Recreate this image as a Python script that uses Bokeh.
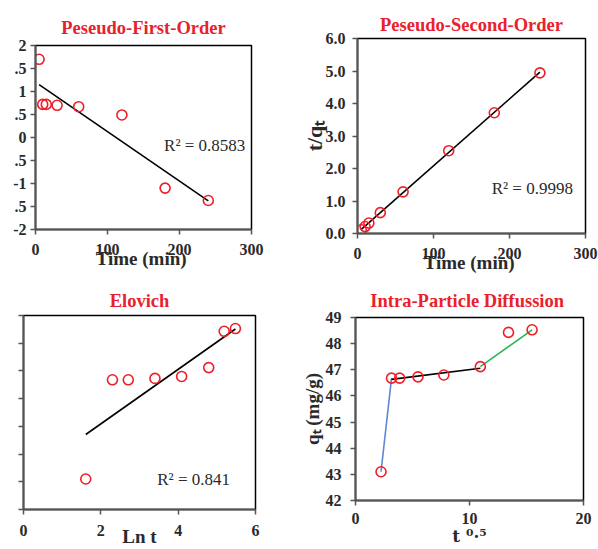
import numpy as np
from bokeh.plotting import figure
from bokeh.layouts import column, row
from bokeh.models import Label, FixedTicker, Range1d, NumeralTickFormatter
from bokeh.embed import file_html
from bokeh.resources import INLINE

# Contact time (min) and the kinetic data derived from it
time_min = [5, 10, 15, 30, 60, 120, 180, 240]
qt_mg_g = [43.1, 46.68, 46.68, 46.73, 46.8, 47.12, 48.43, 48.53]
log_qe_minus_qt = [1.70, 0.72, 0.72, 0.70, 0.67, 0.49, -1.10, -1.37]
t_over_qt = [0.116, 0.214, 0.321, 0.642, 1.282, 2.548, 3.715, 4.943]
ln_t = [1.61, 2.30, 2.71, 3.40, 4.09, 4.79, 5.19, 5.48]
sqrt_t = [2.24, 3.16, 3.87, 5.48, 7.75, 10.95, 13.42, 15.49]

# Panel titles and trendline statistics
titles = ["Peseudo-First-Order", "Peseudo-Second-Order", "Elovich", "Intra-Particle  Diffussion"]
r2_texts = ["R\u00b2 = 0.8583", "R\u00b2 = 0.9998", "R\u00b2 = 0.841"]

# Tick positions / labels
pfo_yticks = [-2, -1.5, -1, -0.5, 0, 0.5, 1, 1.5, 2]
pfo_ytick_labels = ["-2", ".5", "-1", ".5", "0", ".5", "1", ".5", "2"]
time_ticks = [0, 100, 200, 300]
pso_yticks = [0, 1, 2, 3, 4, 5, 6]
elovich_xticks = [0, 2, 4, 6]
qt_ticks = [42, 43, 44, 45, 46, 47, 48, 49]
ipd_xticks = [0, 10, 20]

FONT = "Liberation Serif"
TITLE_RED = "#e8222c"
MARK_RED = "#f01e28"
AXIS_GREY = "#555555"
TEXT_DARK = "#2a2a2a"


def make_fig(w, h, left, right, top, bottom, xr, yr, title, title_standoff):
    p = figure(width=w, height=h, x_range=Range1d(*xr), y_range=Range1d(*yr),
               output_backend="svg", toolbar_location=None,
               min_border_left=left, min_border_right=right,
               min_border_top=top, min_border_bottom=bottom)
    p.frame_align = False
    p.title.text = title
    p.title.align = "center"
    p.title.text_font = FONT
    p.title.text_font_style = "bold"
    p.title.text_font_size = "18.5px"
    p.title.text_color = TITLE_RED
    p.title.standoff = title_standoff
    p.outline_line_color = "black"
    p.outline_line_width = 1.5
    p.grid.visible = False
    p.background_fill_color = "white"
    p.border_fill_color = "white"
    for ax in (p.xaxis[0], p.yaxis[0]):
        ax.axis_line_color = AXIS_GREY
        ax.axis_line_width = 2
        ax.major_tick_line_color = AXIS_GREY
        ax.major_tick_line_width = 1.5
        ax.major_tick_out = 5
        ax.major_tick_in = 0
        ax.minor_tick_line_color = None
        ax.major_label_text_font = FONT
        ax.major_label_text_font_style = "bold"
        ax.major_label_text_font_size = "16px"
        ax.major_label_text_color = TEXT_DARK
        ax.axis_label_text_font = FONT
        ax.axis_label_text_font_style = "bold"
        ax.axis_label_text_font_size = "19px"
        ax.axis_label_text_color = TEXT_DARK
    return p


def markers(p, x, y):
    p.scatter(x, y, marker="circle", size=10, fill_color=None,
              line_color=MARK_RED, line_width=1.6)


def fit_line(p, x, y, color="black"):
    k, b = np.polyfit(x, y, 1)
    xs = np.array([min(x), max(x)])
    p.line(xs, k * xs + b, line_color=color, line_width=1.6)


def r2_label(p, x, y, text):
    p.add_layout(Label(x=x, y=y, text=text, text_align="center", text_baseline="middle",
                       text_font=FONT, text_font_size="17px", text_color=TEXT_DARK))


# Pseudo-first-order: log(qe - qt) against t
p1 = make_fig(298, 280, 35, 47, 45, 51, (0, 300), (-2, 2), titles[0], 15)
p1.xaxis.ticker = FixedTicker(ticks=time_ticks)
p1.yaxis.ticker = FixedTicker(ticks=pfo_yticks)
p1.yaxis.major_label_overrides = dict(zip(pfo_yticks, pfo_ytick_labels))
p1.yaxis.major_label_standoff = 4
p1.xaxis.major_label_standoff = 9
p1.xaxis.axis_label = "Time  (min)"
p1.xaxis.axis_label_standoff = -10
fit_line(p1, time_min, log_qe_minus_qt)
markers(p1, time_min, log_qe_minus_qt)
r2_label(p1, 235, -0.17, r2_texts[0])

# Pseudo-second-order: t/qt against t
p2 = make_fig(300, 280, 55, 13, 38, 47, (0, 300), (0, 6), titles[1], 8)
p2.xaxis.ticker = FixedTicker(ticks=time_ticks)
p2.yaxis.ticker = FixedTicker(ticks=pso_yticks)
p2.yaxis.formatter = NumeralTickFormatter(format="0.0")
p2.yaxis.major_label_standoff = 7
p2.xaxis.major_label_standoff = 9
p2.xaxis.axis_label = "Time  (min)"
p2.xaxis.axis_label_standoff = -10
p2.yaxis.axis_label = "t/q\u209c"
p2.yaxis.axis_label_text_font_size = "22px"
p2.yaxis.axis_label_standoff = -4
fit_line(p2, time_min, t_over_qt)
markers(p2, time_min, t_over_qt)
r2_label(p2, 230, 1.38, r2_texts[1])

# Elovich: qt against ln t
p3 = make_fig(298, 269, 23, 43, 35, 39, (0, 6), (42, 49), titles[2], 10)
p3.xaxis.ticker = FixedTicker(ticks=elovich_xticks)
p3.yaxis.ticker = FixedTicker(ticks=qt_ticks)
p3.yaxis.major_label_overrides = {v: "" for v in qt_ticks}
p3.xaxis.major_label_standoff = 10
p3.xaxis.axis_label = "Ln t"
p3.xaxis.axis_label_standoff = -13
fit_line(p3, ln_t, qt_mg_g)
markers(p3, ln_t, qt_mg_g)
r2_label(p3, 4.40, 43.08, r2_texts[2])

# Intra-particle diffusion: qt against t^0.5, three linear stages
p4 = make_fig(300, 269, 52, 15, 37, 49, (0, 20), (42, 49), titles[3], 13)
p4.xaxis.ticker = FixedTicker(ticks=ipd_xticks)
p4.yaxis.ticker = FixedTicker(ticks=qt_ticks)
p4.yaxis.major_label_standoff = 9
p4.xaxis.major_label_standoff = 7
p4.xaxis.axis_label = "t \u2070\u00b7\u2075"
p4.xaxis.axis_label_text_font = "DejaVu Serif"
p4.xaxis.axis_label_text_font_size = "17px"
p4.xaxis.axis_label_standoff = -1
p4.yaxis.axis_label = "q\u209c (mg/g)"
p4.yaxis.axis_label_standoff = 0
p4.line(sqrt_t[0:2], qt_mg_g[0:2], line_color="#5a8ad2", line_width=1.6)
fit_line(p4, sqrt_t[1:6], qt_mg_g[1:6])
p4.line(sqrt_t[5:8:2], qt_mg_g[5:8:2], line_color="#2db45a", line_width=1.6)
markers(p4, sqrt_t, qt_mg_g)

layout = column(row(p1, p2), row(p3, p4))
open("out.html", "w").write(file_html(layout, INLINE))
